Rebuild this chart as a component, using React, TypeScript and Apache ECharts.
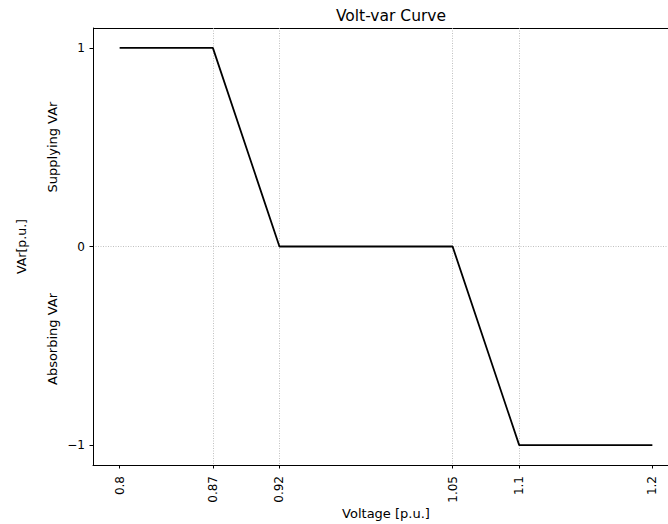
import React, { useEffect, useRef } from "react";
import * as echarts from "echarts";

const voltage = [0.8, 0.87, 0.92, 1.05, 1.1, 1.2];
const vars = [1, 1, 0, 0, -1, -1];
const xTicks = [0.8, 0.87, 0.92, 1.05, 1.1, 1.2];
const yTicks = [-1, 0, 1];
const title = "Volt-var Curve";
const xName = "Voltage [p.u.]";
const yName = "VAr[p.u.]";
const upperNote = "Supplying VAr";
const lowerNote = "Absorbing VAr";

const FONT = "DejaVu Sans";

export default function App() {
  const ref = useRef<HTMLDivElement>(null);
  useEffect(() => {
    if (!ref.current) return;
    const chart = echarts.init(ref.current, null, { renderer: "svg" });
    const gridLine = {
      show: true,
      showMinLine: false,
      showMaxLine: false,
      lineStyle: { color: "#b0b0b0", width: 0.8, type: [1, 1.5] as any },
    };
    chart.setOption({
      animation: false,
      backgroundColor: "#fff",
      title: {
        text: title,
        left: 386,
        textAlign: "center",
        top: 3,
        textStyle: { fontFamily: FONT, fontSize: 15.5, fontWeight: "normal", color: "#000" },
      },
      grid: { left: 93, top: 28, width: 586, height: 437, containLabel: false, outerBoundsMode: "none" },
      xAxis: {
        type: "value",
        min: 0.78,
        max: 1.22,
        name: xName,
        nameLocation: "middle",
        nameGap: 42,
        nameMoveOverlap: false,
        nameTextStyle: { fontFamily: FONT, fontSize: 13, color: "#000" },
        axisLine: { show: true, onZero: false, lineStyle: { color: "#000", width: 1 } },
        axisTick: { show: true, customValues: xTicks, length: 3.5, lineStyle: { color: "#000" } },
        axisLabel: {
          customValues: xTicks,
          rotate: 90,
          margin: 11,
          fontFamily: FONT,
          fontSize: 12,
          color: "#000",
          formatter: (v: number) => String(v),
        },
        splitLine: gridLine,
      },
      yAxis: {
        type: "value",
        min: -1.1,
        max: 1.1,
        name: yName,
        nameLocation: "middle",
        nameGap: 65,
        nameTextStyle: { fontFamily: FONT, fontSize: 12.5, color: "#000" },
        axisLine: { show: true, onZero: false, lineStyle: { color: "#000", width: 1 } },
        axisTick: { show: true, customValues: yTicks, length: 3.5, lineStyle: { color: "#000" } },
        axisLabel: {
          customValues: yTicks,
          margin: 8,
          fontFamily: FONT,
          fontSize: 12,
          color: "#000",
          formatter: (v: number) => (v < 0 ? "\u2212" + Math.abs(v) : String(v)),
        },
        splitLine: gridLine,
      },
      graphic: [
        {
          type: "line",
          shape: { x1: 93, y1: 28.5, x2: 700, y2: 28.5 },
          style: { stroke: "#000", lineWidth: 1 },
          silent: true,
        },
        {
          type: "text",
          x: 52,
          y: 147,
          rotation: Math.PI / 2,
          style: { text: upperNote, fontFamily: FONT, fontSize: 13, fill: "#000", align: "center", verticalAlign: "middle" },
        },
        {
          type: "text",
          x: 52,
          y: 339,
          rotation: Math.PI / 2,
          style: { text: lowerNote, fontFamily: FONT, fontSize: 13, fill: "#000", align: "center", verticalAlign: "middle" },
        },
      ],
      series: [
        {
          type: "line",
          data: voltage.map((v, i) => [v, vars[i]]),
          symbol: "none",
          lineStyle: { color: "#000", width: 1.8 },
        },
      ],
    });
    return () => chart.dispose();
  }, []);
  return (
    <div style={{ position: "absolute", left: 0, top: 0, width: 668, height: 524, overflow: "hidden", background: "#fff" }}>
      <div ref={ref} style={{ width: 720, height: 524 }} />
    </div>
  );
}
